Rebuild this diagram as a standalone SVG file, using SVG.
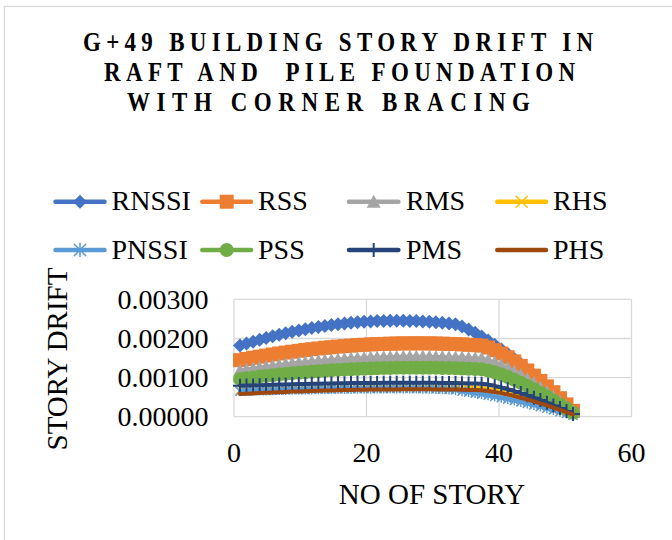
<svg xmlns="http://www.w3.org/2000/svg" width="672" height="540" viewBox="0 0 672 540">
<style>
.grid{stroke:#d9d9d9;stroke-width:1.3;fill:none}
.s{fill:none;stroke-width:4;stroke-linejoin:round;stroke-linecap:round}
.l{fill:none;stroke-width:4.5;stroke-linecap:round}
</style>
<defs>
<marker id="mD" markerUnits="userSpaceOnUse" viewBox="-8 -8 16 16" markerWidth="16" markerHeight="16" refX="0" refY="0" overflow="visible"><path d="M0,-7L7,0L0,7L-7,0Z" fill="#4472C4"/></marker>
<marker id="mS" markerUnits="userSpaceOnUse" viewBox="-8 -8 16 16" markerWidth="16" markerHeight="16" refX="0" refY="0" overflow="visible"><rect x="-7" y="-7" width="14" height="14" fill="#ED7D31"/></marker>
<marker id="mT" markerUnits="userSpaceOnUse" viewBox="-8 -8 16 16" markerWidth="16" markerHeight="16" refX="0" refY="0" overflow="visible"><path d="M0,-7L7,6L-7,6Z" fill="#A5A5A5"/></marker>
<marker id="mX" markerUnits="userSpaceOnUse" viewBox="-8 -8 16 16" markerWidth="16" markerHeight="16" refX="0" refY="0" overflow="visible"><path d="M-6,-6L6,6M-6,6L6,-6" stroke="#FFC000" stroke-width="1.5" fill="none"/></marker>
<marker id="mA" markerUnits="userSpaceOnUse" viewBox="-8 -8 16 16" markerWidth="16" markerHeight="16" refX="0" refY="0" overflow="visible"><path d="M0,-7V7M-6,-6L6,6M-6,6L6,-6" stroke="#5B9BD5" stroke-width="1.5" fill="none"/></marker>
<marker id="mx" markerUnits="userSpaceOnUse" viewBox="-8 -8 16 16" markerWidth="16" markerHeight="16" refX="0" refY="0" overflow="visible"><path d="M-4.5,-4.5L4.5,4.5M-4.5,4.5L4.5,-4.5" stroke="#FFC000" stroke-width="1.5" fill="none"/></marker>
<marker id="ma" markerUnits="userSpaceOnUse" viewBox="-8 -8 16 16" markerWidth="16" markerHeight="16" refX="0" refY="0" overflow="visible"><path d="M0,-5V5M-4.5,-4.5L4.5,4.5M-4.5,4.5L4.5,-4.5" stroke="#5B9BD5" stroke-width="1.5" fill="none"/></marker>
<marker id="mC" markerUnits="userSpaceOnUse" viewBox="-8 -8 16 16" markerWidth="16" markerHeight="16" refX="0" refY="0" overflow="visible"><circle r="7" fill="#70AD47"/></marker>
<marker id="mP" markerUnits="userSpaceOnUse" viewBox="-8 -8 16 16" markerWidth="16" markerHeight="16" refX="0" refY="0" overflow="visible"><path d="M0,-7V7M-7,0H7" stroke="#264478" stroke-width="2" fill="none"/></marker>
</defs>
<rect x="0" y="0" width="672" height="540" fill="#fff"/>
<rect x="4.5" y="6.5" width="700" height="600" fill="#fff" stroke="#d9d9d9" stroke-width="1.3"/>

<g id="title">
<text font-family="Liberation Serif" font-size="23" font-weight="bold" xml:space="preserve" transform="translate(83,50.7) scale(1,1.15)" textLength="510" lengthAdjust="spacing">G+49 BUILDING STORY DRIFT IN</text>
<text font-family="Liberation Serif" font-size="23" font-weight="bold" xml:space="preserve" transform="translate(104,80.5) scale(1,1.15)" textLength="471" lengthAdjust="spacing">RAFT AND  PILE FOUNDATION</text>
<text font-family="Liberation Serif" font-size="23" font-weight="bold" xml:space="preserve" transform="translate(127,111) scale(1,1.15)" textLength="403" lengthAdjust="spacing">WITH CORNER BRACING</text>
</g>

<g id="legend">
<g id="leg-RNSSI"><polyline class="l" stroke="#4472C4" points="55.5,201.7 80,201.7 104.5,201.7" marker-mid="url(#mD)"/><text font-family="Liberation Serif" font-size="28" x="111.5" y="210">RNSSI</text></g>
<g id="leg-RSS"><polyline class="l" stroke="#ED7D31" points="202.3,201.7 226.7,201.7 251,201.7" marker-mid="url(#mS)"/><text font-family="Liberation Serif" font-size="28" x="258" y="210">RSS</text></g>
<g id="leg-RMS"><polyline class="l" stroke="#A5A5A5" points="349,201.7 373.7,201.7 398.4,201.7" marker-mid="url(#mT)"/><text font-family="Liberation Serif" font-size="28" x="406" y="210">RMS</text></g>
<g id="leg-RHS"><polyline class="l" stroke="#FFC000" points="497.3,201.7 521.7,201.7 546,201.7" marker-mid="url(#mX)"/><text font-family="Liberation Serif" font-size="28" x="553" y="210">RHS</text></g>
<g id="leg-PNSSI"><polyline class="l" stroke="#5B9BD5" points="55.5,250 80,250 104.5,250" marker-mid="url(#mA)"/><text font-family="Liberation Serif" font-size="28" x="111.5" y="258.5">PNSSI</text></g>
<g id="leg-PSS"><polyline class="l" stroke="#70AD47" points="202.3,250 226.7,250 251,250" marker-mid="url(#mC)"/><text font-family="Liberation Serif" font-size="28" x="258" y="258.5">PSS</text></g>
<g id="leg-PMS"><polyline class="l" stroke="#264478" points="349,250 373.7,250 398.4,250" marker-mid="url(#mP)"/><text font-family="Liberation Serif" font-size="28" x="406" y="258.5">PMS</text></g>
<g id="leg-PHS"><polyline class="l" stroke="#9E480E" points="497.3,250 521.7,250 546,250"/><text font-family="Liberation Serif" font-size="28" x="553" y="258.5">PHS</text></g>
</g>

<g id="grid" class="grid">
<path d="M234,299.3H631.5M234,338.5H631.5M234,377.6H631.5M234,416.7H631.5M234,299.3V416.7M366.5,299.3V416.7M499,299.3V416.7M631.5,299.3V416.7"/>
</g>

<g id="axes">
<text font-family="Liberation Serif" font-size="28" x="208.5" y="309" text-anchor="end">0.00300</text>
<text font-family="Liberation Serif" font-size="28" x="208.5" y="348.2" text-anchor="end">0.00200</text>
<text font-family="Liberation Serif" font-size="28" x="208.5" y="387.3" text-anchor="end">0.00100</text>
<text font-family="Liberation Serif" font-size="28" x="208.5" y="426.4" text-anchor="end">0.00000</text>
<text font-family="Liberation Serif" font-size="28" x="234" y="461.7" text-anchor="middle">0</text>
<text font-family="Liberation Serif" font-size="28" x="366.5" y="461.7" text-anchor="middle">20</text>
<text font-family="Liberation Serif" font-size="28" x="499" y="461.7" text-anchor="middle">40</text>
<text font-family="Liberation Serif" font-size="28" x="631.5" y="461.7" text-anchor="middle">60</text>
<text id="xtitle" font-family="Liberation Serif" font-size="29" x="432" y="504.3" text-anchor="middle">NO OF STORY</text>
<text id="ytitle" font-family="Liberation Serif" font-size="29" transform="translate(66.5,359) rotate(-90)" text-anchor="middle">STORY DRIFT</text>
</g>

<g id="series">
<polyline id="RNSSI" class="s" stroke="#4472C4" marker-start="url(#mD)" marker-mid="url(#mD)" marker-end="url(#mD)" points="240.0,345.6 246.5,343.6 253.1,341.7 259.6,339.8 266.1,338.0 272.7,336.3 279.2,334.7 285.7,333.2 292.2,331.8 298.8,330.4 305.3,329.2 311.8,328.0 318.4,326.9 324.9,325.9 331.4,325.0 338.0,324.2 344.5,323.5 351.0,322.8 357.5,322.3 364.1,321.8 370.6,321.4 377.1,321.1 383.7,320.9 390.2,320.8 396.7,320.7 403.3,320.8 409.8,320.9 416.3,321.1 422.8,321.4 429.4,321.8 435.9,322.3 442.4,322.8 449.0,323.5 455.5,324.2 462.0,326.4 468.6,329.4 475.1,332.7 481.6,336.5 488.1,340.5 494.7,344.7 501.2,349.2 507.7,354.0 514.3,358.9 520.8,364.1 527.3,369.4 533.9,375.0 540.4,380.7 546.9,386.6 553.4,392.7 560.0,398.9 566.5,405.3 573.0,411.9"/>
<polyline id="RSS" class="s" stroke="#ED7D31" marker-start="url(#mS)" marker-mid="url(#mS)" marker-end="url(#mS)" points="240.0,360.2 246.5,359.0 253.1,357.8 259.6,356.7 266.1,355.6 272.7,354.5 279.2,353.5 285.7,352.6 292.2,351.7 298.8,350.8 305.3,350.0 311.8,349.2 318.4,348.5 324.9,347.8 331.4,347.2 338.0,346.6 344.5,346.1 351.0,345.6 357.5,345.2 364.1,344.8 370.6,344.4 377.1,344.1 383.7,343.9 390.2,343.7 396.7,343.5 403.3,343.4 409.8,343.4 416.3,343.3 422.8,343.4 429.4,343.4 435.9,343.5 442.4,343.7 449.0,343.9 455.5,344.1 462.0,344.4 468.6,344.8 475.1,345.2 481.6,345.6 488.1,347.5 494.7,350.2 501.2,353.5 507.7,357.2 514.3,361.4 520.8,365.8 527.3,370.5 533.9,375.6 540.4,380.9 546.9,386.4 553.4,392.2 560.0,398.2 566.5,404.4 573.0,410.9"/>
<polyline id="RMS" class="s" stroke="#A5A5A5" marker-start="url(#mT)" marker-mid="url(#mT)" marker-end="url(#mT)" points="240.0,370.5 246.5,369.5 253.1,368.6 259.6,367.6 266.1,366.7 272.7,365.9 279.2,365.1 285.7,364.3 292.2,363.5 298.8,362.8 305.3,362.2 311.8,361.6 318.4,361.0 324.9,360.4 331.4,359.9 338.0,359.4 344.5,359.0 351.0,358.6 357.5,358.2 364.1,357.9 370.6,357.6 377.1,357.4 383.7,357.2 390.2,357.0 396.7,356.9 403.3,356.8 409.8,356.7 416.3,356.7 422.8,356.7 429.4,356.8 435.9,356.9 442.4,357.0 449.0,357.2 455.5,357.4 462.0,357.6 468.6,357.9 475.1,358.2 481.6,358.6 488.1,360.1 494.7,362.3 501.2,365.0 507.7,368.1 514.3,371.5 520.8,375.1 527.3,379.0 533.9,383.1 540.4,387.4 546.9,392.0 553.4,396.7 560.0,401.6 566.5,406.7 573.0,411.9"/>
<polyline id="RHS" class="s" stroke="#FFC000" marker-start="url(#mx)" marker-mid="url(#mx)" marker-end="url(#mx)" points="240.0,390.4 246.5,390.2 253.1,390.0 259.6,389.8 266.1,389.6 272.7,389.5 279.2,389.3 285.7,389.2 292.2,389.0 298.8,388.9 305.3,388.8 311.8,388.6 318.4,388.5 324.9,388.4 331.4,388.3 338.0,388.2 344.5,388.1 351.0,388.1 357.5,388.0 364.1,387.9 370.6,387.9 377.1,387.8 383.7,387.8 390.2,387.8 396.7,387.7 403.3,387.7 409.8,387.7 416.3,387.7 422.8,387.7 429.4,387.7 435.9,387.8 442.4,387.9 449.0,387.9 455.5,388.0 462.0,388.2 468.6,388.3 475.1,388.4 481.6,388.6 488.1,389.3 494.7,390.4 501.2,391.7 507.7,393.2 514.3,394.8 520.8,396.6 527.3,398.5 533.9,400.5 540.4,402.6 546.9,404.7 553.4,407.0 560.0,409.4 566.5,411.9 573.0,414.4"/>
<polyline id="PNSSI" class="s" stroke="#5B9BD5" marker-start="url(#ma)" marker-mid="url(#ma)" marker-end="url(#ma)" points="240.0,391.2 246.5,391.0 253.1,390.8 259.6,390.6 266.1,390.4 272.7,390.3 279.2,390.1 285.7,390.0 292.2,389.8 298.8,389.7 305.3,389.6 311.8,389.4 318.4,389.3 324.9,389.2 331.4,389.1 338.0,389.0 344.5,388.9 351.0,388.9 357.5,388.8 364.1,388.7 370.6,388.7 377.1,388.6 383.7,388.6 390.2,388.6 396.7,388.5 403.3,388.5 409.8,388.5 416.3,388.6 422.8,388.7 429.4,388.8 435.9,389.0 442.4,389.2 449.0,389.5 455.5,389.9 462.0,391.3 468.6,392.1 475.1,393.1 481.6,394.1 488.1,395.3 494.7,396.5 501.2,397.7 507.7,399.1 514.3,400.5 520.8,401.9 527.3,403.4 533.9,405.0 540.4,406.6 546.9,408.2 553.4,409.9 560.0,411.7 566.5,413.5 573.0,415.3"/>
<polyline id="PSS" class="s" stroke="#70AD47" marker-start="url(#mC)" marker-mid="url(#mC)" marker-end="url(#mC)" points="240.0,379.0 246.5,378.2 253.1,377.4 259.6,376.6 266.1,375.9 272.7,375.2 279.2,374.5 285.7,373.9 292.2,373.3 298.8,372.7 305.3,372.2 311.8,371.7 318.4,371.2 324.9,370.7 331.4,370.3 338.0,369.9 344.5,369.6 351.0,369.3 357.5,369.0 364.1,368.7 370.6,368.5 377.1,368.3 383.7,368.1 390.2,368.0 396.7,367.8 403.3,367.8 409.8,367.7 416.3,367.7 422.8,367.7 429.4,367.8 435.9,367.8 442.4,368.0 449.0,368.1 455.5,368.3 462.0,368.5 468.6,368.7 475.1,369.0 481.6,369.3 488.1,370.5 494.7,372.3 501.2,374.5 507.7,377.0 514.3,379.8 520.8,382.7 527.3,385.9 533.9,389.3 540.4,392.8 546.9,396.5 553.4,400.4 560.0,404.4 566.5,408.5 573.0,412.8"/>
<polyline id="PMS" class="s" stroke="#264478" marker-start="url(#mP)" marker-mid="url(#mP)" marker-end="url(#mP)" points="240.0,385.8 246.5,385.6 253.1,385.4 259.6,385.2 266.1,385.0 272.7,384.8 279.2,384.6 285.7,384.4 292.2,384.3 298.8,384.1 305.3,383.9 311.8,383.8 318.4,383.7 324.9,383.5 331.4,383.4 338.0,383.3 344.5,383.2 351.0,383.1 357.5,383.0 364.1,383.0 370.6,382.9 377.1,382.9 383.7,382.8 390.2,382.8 396.7,382.7 403.3,382.7 409.8,382.7 416.3,382.7 422.8,382.7 429.4,382.7 435.9,382.8 442.4,382.9 449.0,383.0 455.5,383.1 462.0,383.2 468.6,383.4 475.1,383.6 481.6,383.8 488.1,384.6 494.7,385.9 501.2,387.4 507.7,389.2 514.3,391.1 520.8,393.1 527.3,395.3 533.9,397.7 540.4,400.1 546.9,402.7 553.4,405.4 560.0,408.1 566.5,411.0 573.0,414.0"/>
<polyline id="PHS" class="s" stroke="#9E480E" stroke-width="5" points="240.0,394.0 246.5,393.7 253.1,393.4 259.6,393.0 266.1,392.7 272.7,392.4 279.2,392.2 285.7,391.9 292.2,391.6 298.8,391.4 305.3,391.2 311.8,391.0 318.4,390.8 324.9,390.6 331.4,390.4 338.0,390.2 344.5,390.1 351.0,390.0 357.5,389.8 364.1,389.7 370.6,389.6 377.1,389.5 383.7,389.5 390.2,389.4 396.7,389.4 403.3,389.3 409.8,389.3 416.3,389.3 422.8,389.3 429.4,389.3 435.9,389.4 442.4,389.4 449.0,389.5 455.5,389.6 462.0,389.7 468.6,389.9 475.1,390.0 481.6,390.2 488.1,390.9 494.7,391.9 501.2,393.1 507.7,394.5 514.3,396.0 520.8,397.7 527.3,399.5 533.9,401.4 540.4,403.3 546.9,405.4 553.4,407.6 560.0,409.8 566.5,412.1 573.0,414.5"/>
</g>
</svg>
